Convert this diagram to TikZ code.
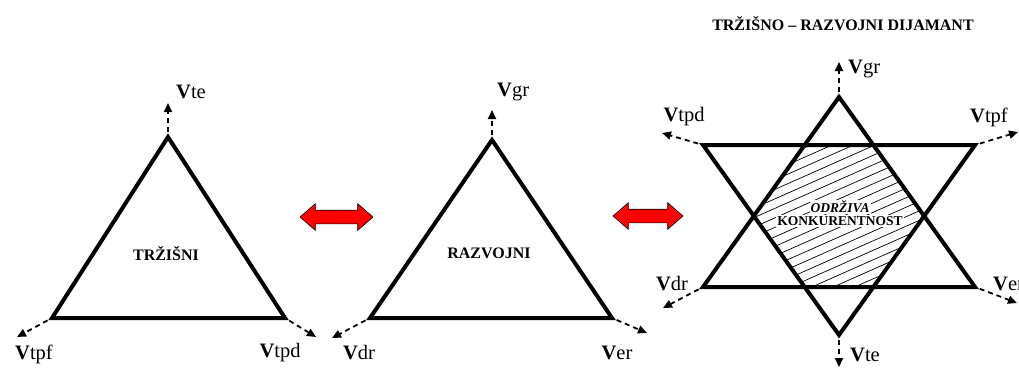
\documentclass[tikz,border=0pt]{standalone}
\usepackage{fontspec}
\setmainfont{Liberation Serif}
\usetikzlibrary{arrows.meta,shapes.arrows}
\newcommand{\vlab}[1]{\textbf{V}#1}

\begin{document}
\begin{tikzpicture}[x=1pt, y=-1pt,
  tri/.style={draw=black, line width=4pt, line join=miter},
  vec/.style={line width=1.8pt, dash pattern=on 5pt off 4pt, -{Triangle[length=9pt,width=8pt]}, shorten <=5pt},
  vlabel/.style={font=\fontsize{20.5}{24}\selectfont, inner sep=0pt},
  title/.style={font=\bfseries\fontsize{16}{19}\selectfont, inner sep=1pt},
  core/.style={font=\bfseries\fontsize{13.5}{16}\selectfont, fill=white, inner sep=1pt},
  swap/.style={double arrow, draw=black, line width=0.6pt, fill=red, minimum height=73pt, minimum width=26pt, double arrow head extend=6.5pt, double arrow tip angle=82, inner xsep=0pt, inner ysep=6.5pt},
  hatch/.style={line width=0.7pt}
]
\useasboundingbox (0,0) rectangle (1019,368);

% trzisni trokut
\coordinate (tA) at (168,137);
\coordinate (tL) at (52,318);
\coordinate (tR) at (285,318);
\coordinate (tAe) at (168,103);
\coordinate (tLe) at (17,337);
\coordinate (tRe) at (316,337);
\draw[tri] (tA) -- (tL) -- (tR) -- cycle;
\draw[vec] (tA) -- (tAe);
\draw[vec] (tL) -- (tLe);
\draw[vec] (tR) -- (tRe);
\node[title] (tname) at (166,254) {TRŽIŠNI};
\node[vlabel, anchor=west] (vte1) at (176,92) {\vlab{te}};
\node[vlabel] (vtpf1) at (34,354) {\vlab{tpf}};
\node[vlabel] (vtpd1) at (280,353) {\vlab{tpd}};

% razvojni trokut
\coordinate (rA) at (492,140);
\coordinate (rL) at (370,318);
\coordinate (rR) at (612,318);
\coordinate (rAe) at (492,110);
\coordinate (rLe) at (332,338);
\coordinate (rRe) at (647,333);
\draw[tri] (rA) -- (rL) -- (rR) -- cycle;
\draw[vec] (rA) -- (rAe);
\draw[vec] (rL) -- (rLe);
\draw[vec] (rR) -- (rRe);
\node[title] (rname) at (489,253) {RAZVOJNI};
\node[vlabel, anchor=west] (vgr1) at (497,92) {\vlab{gr}};
\node[vlabel] (vdr1) at (359,353) {\vlab{dr}};
\node[vlabel] (ver1) at (617,353) {\vlab{er}};

% strelice
\node[swap] (sw1) at (336.5,217) {};
\node[swap, minimum height=70pt] (sw2) at (648,216) {};

% dijamant
\node[title] (dtitle) at (843,24) {TRŽIŠNO – RAZVOJNI DIJAMANT};
\coordinate (uA) at (839,97);
\coordinate (uL) at (703,287);
\coordinate (uR) at (975,287);
\coordinate (dL) at (703,145);
\coordinate (dR) at (975,145);
\coordinate (dB) at (839,335);
\coordinate (h1) at (intersection of uA--uL and dL--dR);
\coordinate (h2) at (intersection of uA--uR and dL--dR);
\coordinate (h3) at (intersection of uA--uR and dR--dB);
\coordinate (h4) at (intersection of uL--uR and dR--dB);
\coordinate (h5) at (intersection of uL--uR and dL--dB);
\coordinate (h6) at (intersection of uA--uL and dL--dB);
\begin{scope}
  \clip (h1) -- (h2) -- (h3) -- (h4) -- (h5) -- (h6) -- cycle;
  \foreach \k in {0,...,28}
    \draw[hatch] (690,{132+\k*9.5}) -- ++(300,-133);
\end{scope}
\node[core, font=\bfseries\itshape\fontsize{13.5}{16}\selectfont] (odr) at (840,207) {ODRŽIVA};
\node[core] (konk) at (840,221) {KONKURENTNOST};
\draw[tri] (uA) -- (uL) -- (uR) -- cycle;
\draw[tri] (dL) -- (dR) -- (dB) -- cycle;

\coordinate (uAe) at (839,62);
\coordinate (dLe) at (662,133);
\coordinate (dRe) at (1018,132);
\coordinate (uLe) at (663,308);
\coordinate (uRe) at (1017,303);
\coordinate (dBe) at (839,367);
\draw[vec] (uA) -- (uAe);
\draw[vec] (dL) -- (dLe);
\draw[vec] (dR) -- (dRe);
\draw[vec] (uL) -- (uLe);
\draw[vec] (uR) -- (uRe);
\draw[vec] (dB) -- (dBe);
\node[vlabel, anchor=west] (vgr2) at (848,69) {\vlab{gr}};
\node[vlabel] (vtpd2) at (684,117) {\vlab{tpd}};
\node[vlabel] (vtpf2) at (989,117) {\vlab{tpf}};
\node[vlabel] (vdr2) at (672,284) {\vlab{dr}};
\node[vlabel, anchor=west] (ver2) at (993,284) {\vlab{er}};
\node[vlabel, anchor=west] (vte2) at (850,355) {\vlab{te}};
\end{tikzpicture}
\end{document}
